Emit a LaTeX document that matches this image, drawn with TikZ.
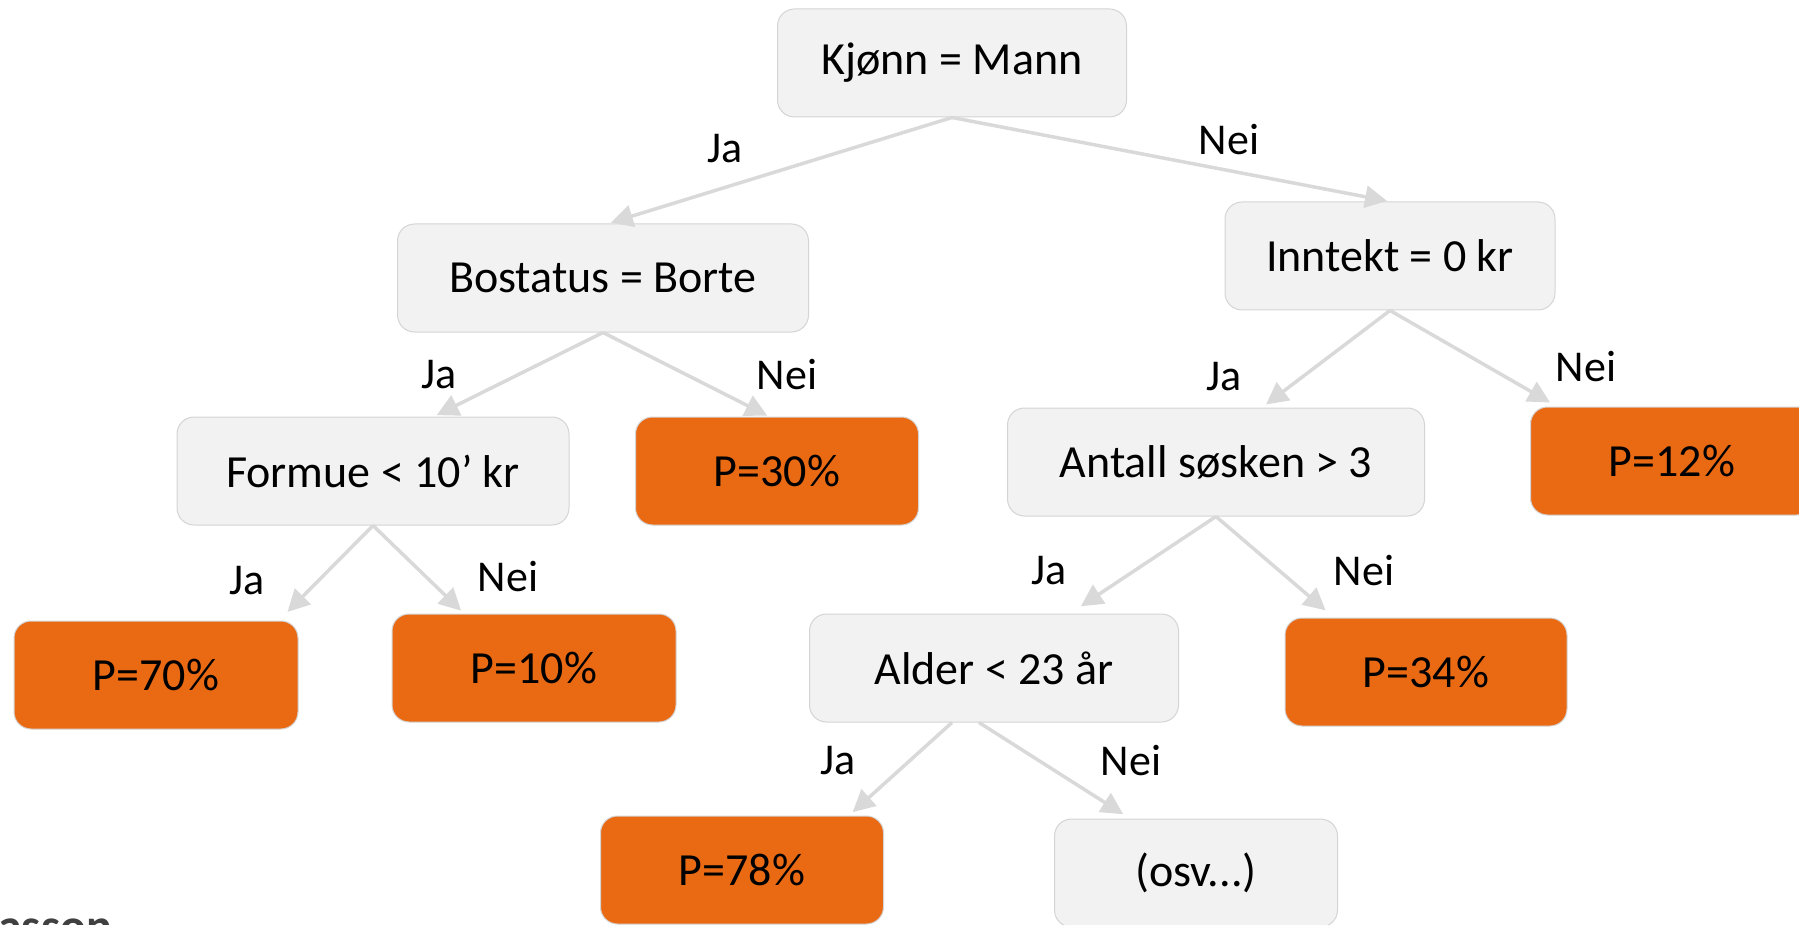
\documentclass[tikz,border=0pt]{standalone}
\usepackage{fontspec}
\setmainfont{Carlito}
\usetikzlibrary{arrows.meta}
\definecolor{boxgray}{RGB}{242,242,242}
\definecolor{boxline}{RGB}{212,212,212}
\definecolor{orng}{RGB}{234,106,20}
\definecolor{arrowgray}{RGB}{217,217,217}
\definecolor{siggray}{RGB}{64,64,64}
\begin{document}
\begin{tikzpicture}[x=1pt,y=-1pt,
  base/.style={rounded corners=17pt, minimum height=108pt, inner sep=0pt,
    font=\fontsize{46}{55}\selectfont, text=black, draw=boxline, line width=1pt},
  qbox/.style={base, fill=boxgray},
  pbox/.style={base, fill=orng},
  conn/.style={draw=arrowgray, line width=3.5pt, -{Triangle[length=22pt,width=22pt]}},
  lab/.style={font=\fontsize{44}{52}\selectfont, text=black, inner sep=0pt}
]
\useasboundingbox (0,0) rectangle (1799,925);
\clip (0,0) rectangle (1799,925);

% nodes
\node[qbox, minimum width=349pt] (k) at (952,63) {Kjønn = Mann};
\node[qbox, minimum width=411pt] (b) at (603,278) {Bostatus = Borte};
\node[qbox, minimum width=330pt] (i) at (1390,256) {Inntekt = 0 kr};
\node[qbox, minimum width=392pt] (f) at (373,471) {Formue < 10’ kr};
\node[pbox, minimum width=283pt] (p30) at (777,471) {P=30\%};
\node[qbox, minimum width=417pt] (a) at (1216,462) {Antall søsken > 3};
\node[pbox, minimum width=283pt] (p12) at (1672,461) {P=12\%};
\node[pbox, minimum width=284pt] (p70) at (156,675) {P=70\%};
\node[pbox, minimum width=284pt] (p10) at (534,668) {P=10\%};
\node[qbox, minimum width=369pt] (al) at (994,668) {Alder < 23 år};
\node[pbox, minimum width=282pt] (p34) at (1426,672) {P=34\%};
\node[pbox, minimum width=283pt] (p78) at (742,870) {P=78\%};
\node[qbox, minimum width=283pt] (osv) at (1196,873) {(osv...)};

% connectors
\draw[conn, shorten >=3pt] (k.south) -- ([xshift=5pt]b.north);
\draw[conn, shorten >=3pt] (k.south) -- (i.north);
\draw[conn, shorten >=3pt] (b.south) -- ([xshift=61pt]f.north);
\draw[conn, shorten >=2pt] (b.south) -- ([xshift=-8pt]p30.north);
\draw[conn, shorten >=5pt] (i.south) -- ([xshift=46pt]a.north);
\draw[conn, shorten >=8pt] (i.south) -- ([xshift=-115pt]p12.north);
\draw[conn, shorten >=12pt] (f.south) -- ([xshift=123pt]p70.north);
\draw[conn, shorten >=4pt] (f.south) -- ([xshift=-70pt]p10.north);
\draw[conn, shorten >=13pt] (a.south) -- ([xshift=76pt]al.north);
\draw[conn, shorten >=11pt] (a.south) -- ([xshift=-92pt]p34.north);
\draw[conn, shorten >=5pt] ([xshift=-42pt]al.south) -- ([xshift=107pt]p78.north);
\draw[conn, shorten >=8pt] ([xshift=-15pt]al.south) -- ([xshift=-66pt]osv.north);

% labels
\node[lab] (l1) at (725,149) {Ja};
\node[lab] (l2) at (1229,140) {Nei};
\node[lab] (l3) at (439,375) {Ja};
\node[lab] (l4) at (787,375) {Nei};
\node[lab] (l5) at (1224,377) {Ja};
\node[lab] (l6) at (1586,367) {Nei};
\node[lab] (l7) at (247,581) {Ja};
\node[lab] (l8) at (508,577) {Nei};
\node[lab] (l9) at (1049,571) {Ja};
\node[lab] (l10) at (1364,571) {Nei};
\node[lab] (l11) at (838,761) {Ja};
\node[lab] (l12) at (1131,761) {Nei};

% cut-off text at bottom left
\node[anchor=base west, inner sep=0pt, font=\fontsize{48}{56}\selectfont\bfseries, text=siggray] (sig) at (-2,942) {asson};
\end{tikzpicture}
\end{document}
